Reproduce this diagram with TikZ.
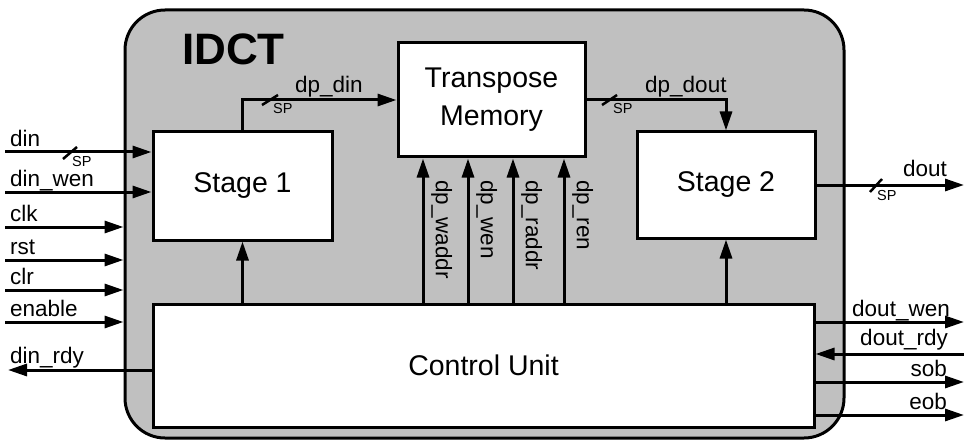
\documentclass[tikz,border=0pt]{standalone}
\usepackage{fontspec}
\setmainfont{Liberation Sans}
\usetikzlibrary{arrows.meta}
\definecolor{idctgray}{RGB}{192,192,192}
\begin{document}
\begin{tikzpicture}[x=1pt,y=1pt,
  box/.style={draw, line width=3pt, fill=white, inner sep=0pt},
  big/.style={font=\fontsize{28.5}{38}\selectfont},
  sig/.style={font=\fontsize{22.5}{26}\selectfont, inner sep=0pt},
  spl/.style={font=\fontsize{14.5}{16}\selectfont, inner sep=0pt},
  arr/.style={line width=3pt, -{Triangle[length=19pt,width=12pt]}},
  slash/.style={line width=2.5pt}]
\useasboundingbox (0,0) rectangle (964,440);
% outer block
\node[draw, line width=3pt, fill=idctgray, rounded corners=40pt, minimum width=719pt, minimum height=428pt, inner sep=0pt] (idct) at (484.5,216) {};
\node[anchor=base west, inner sep=0pt, font=\fontsize{44}{50}\selectfont\bfseries] (title) at (182,375) {IDCT};
% blocks
\node[box, big, minimum width=179pt, minimum height=108pt] (s1) at (242.5,254) {Stage 1};
\node[box, big, minimum width=187pt, minimum height=114pt, align=center] (mem) at (491.5,340) {Transpose\\Memory};
\node[box, big, minimum width=178pt, minimum height=106pt] (s2) at (726,255) {Stage 2};
\node[box, big, minimum width=661pt, minimum height=123pt] (cu) at (483.5,74.5) {Control Unit};
% internal connections
\draw[arr] (cu.north -| s1.south) -- (s1.south);
\draw[arr] (cu.north -| s2.south) -- (s2.south);
\draw[arr] (s1.north) |- (mem.west);
\draw[arr] (mem.east) -| (s2.north);
\node[sig, anchor=base west] (ldpdin) at (295,347) {dp\_din};
\draw[slash] (262,335) -- (278,345);
\node[spl, anchor=west] (sp2) at (273,331.5) {SP};
\node[sig, anchor=base west] (ldpdout) at (645,347) {dp\_dout};
\draw[slash] (602,335) -- (617,345);
\node[spl, anchor=west] (sp3) at (613,331) {SP};
% control to memory
\coordinate (x1) at (423,0);
\coordinate (x2) at (468,0);
\coordinate (x3) at (513,0);
\coordinate (x4) at (564,0);
\draw[arr] (cu.north -| x1) -- (mem.south -| x1);
\draw[arr] (cu.north -| x2) -- (mem.south -| x2);
\draw[arr] (cu.north -| x3) -- (mem.south -| x3);
\draw[arr] (cu.north -| x4) -- (mem.south -| x4);
\node[sig, rotate=-90, anchor=south west] (lw1) at (431,260) {dp\_waddr};
\node[sig, rotate=-90, anchor=south west] (lw2) at (476,260) {dp\_wen};
\node[sig, rotate=-90, anchor=south west] (lw3) at (521,260) {dp\_raddr};
\node[sig, rotate=-90, anchor=south west] (lw4) at (572,260) {dp\_ren};
% left inputs
\coordinate (in1) at (5,288);
\coordinate (in2) at (5,248);
\coordinate (in3) at (5,213);
\coordinate (in4) at (5,180);
\coordinate (in5) at (5,150);
\coordinate (in6) at (5,118);
\coordinate (out0) at (8,70);
\draw[arr] (in1) -- (in1 -| s1.west);
\draw[arr] (in2) -- (in2 -| s1.west);
\draw[arr] (in3) -- (in3 -| idct.west);
\draw[arr] (in4) -- (in4 -| idct.west);
\draw[arr] (in5) -- (in5 -| idct.west);
\draw[arr] (in6) -- (in6 -| idct.west);
\draw[arr] (out0 -| cu.west) -- (out0);
\node[sig, anchor=base west] (t1) at (10,294) {din};
\draw[slash] (63,281) -- (77,293);
\node[spl, anchor=west] (sp1) at (72,278.5) {SP};
\node[sig, anchor=base west] (t2) at (10,254) {din\_wen};
\node[sig, anchor=base west] (t3) at (10,219) {clk};
\node[sig, anchor=base west] (t4) at (10,186) {rst};
\node[sig, anchor=base west] (t5) at (10,156) {clr};
\node[sig, anchor=base west] (t6) at (10,124) {enable};
\node[sig, anchor=base west] (t7) at (10,77) {din\_rdy};
% right outputs
\coordinate (r0) at (964,255);
\coordinate (r1) at (964,118);
\coordinate (r2) at (964,86);
\coordinate (r3) at (964,58);
\coordinate (r4) at (964,25);
\draw[arr] (s2.east) -- (r0);
\draw[slash] (870,248) -- (882,261);
\node[spl, anchor=west] (sp4) at (877,244) {SP};
\node[sig, anchor=base east] (u0) at (947,264) {dout};
\draw[arr] (r1 -| cu.east) -- (r1);
\draw[arr] (r2) -- (r2 -| cu.east);
\draw[arr] (r3 -| cu.east) -- (r3);
\draw[arr] (r4 -| cu.east) -- (r4);
\node[sig, anchor=base east] (u1) at (950,124) {dout\_wen};
\node[sig, anchor=base east] (u2) at (948,95) {dout\_rdy};
\node[sig, anchor=base east] (u3) at (947,64) {sob};
\node[sig, anchor=base east] (u4) at (947,31) {eob};
\end{tikzpicture}
\end{document}
